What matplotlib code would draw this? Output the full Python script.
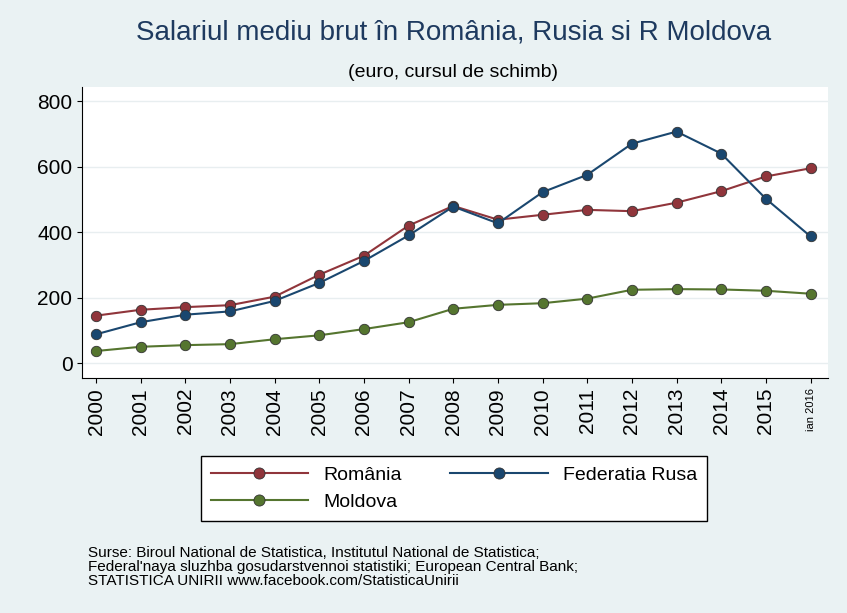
import matplotlib.pyplot as plt
from matplotlib.lines import Line2D

plt.rcParams['font.family'] = ['Liberation Sans', 'DejaVu Sans']

years = ['2000', '2001', '2002', '2003', '2004', '2005', '2006', '2007', '2008',
         '2009', '2010', '2011', '2012', '2013', '2014', '2015', 'ian 2016']
romania = [145, 163, 171, 177, 203, 270, 328, 420, 480, 438, 453, 468, 464, 490, 525, 570, 595]
rusia = [88, 125, 148, 158, 190, 245, 312, 390, 478, 427, 522, 575, 670, 707, 640, 502, 387]
moldova = [37, 50, 55, 58, 73, 85, 104, 125, 166, 178, 183, 197, 224, 226, 225, 221, 212]

c_ro, c_ru, c_md = '#90353b', '#1a476f', '#55752f'

fig = plt.figure(figsize=(8.47, 6.13), dpi=100, facecolor='#eaf2f3')
ax = fig.add_axes([0.097, 0.383, 0.881, 0.475])
x = range(len(years))
for vals, c in [(romania, c_ro), (rusia, c_ru), (moldova, c_md)]:
    ax.plot(x, vals, color=c, lw=1.5, marker='o', ms=7.5, mec='#333333', mew=0.6)

ax.set_xlim(-0.31, 16.4)
ax.set_ylim(-46, 843)
ax.set_yticks([0, 200, 400, 600, 800])
ax.grid(axis='y', color='#e8eef0', lw=1)
ax.set_axisbelow(True)
ax.set_xticks(list(x))
ax.set_xticklabels(years, rotation=90, fontsize=15)
ax.get_xticklabels()[-1].set_fontsize(8)
ax.tick_params(axis='y', labelsize=15)
for s in ['top', 'right']:
    ax.spines[s].set_visible(False)

fig.text(0.535, 0.935, 'Salariul mediu brut în România, Rusia si R Moldova',
         ha='center', fontsize=20, color='#1e3a5f')
fig.text(0.535, 0.875, '(euro, cursul de schimb)', ha='center', fontsize=14)

h = {c: Line2D([], [], color=c, lw=1.5, marker='o', ms=8, mec='#333333', mew=0.6)
     for c in (c_ro, c_ru, c_md)}
leg = fig.legend([h[c_ro], h[c_md], h[c_ru]], ['România', 'Moldova', 'Federatia Rusa'],
                 ncol=2, loc='center', bbox_to_anchor=(0.536, 0.203), fontsize=14,
                 frameon=True, fancybox=False, edgecolor='black', facecolor='white',
                 framealpha=1, handlelength=5, columnspacing=2.5, borderpad=0.5)

fig.text(0.104, 0.045, 'Surse: Biroul National de Statistica, Institutul National de Statistica;\n'
         "Federal'naya sluzhba gosudarstvennoi statistiki; European Central Bank;\n"
         'STATISTICA UNIRII www.facebook.com/StatisticaUnirii', fontsize=11, linespacing=1.0)

fig.savefig('out.png', dpi=100, facecolor=fig.get_facecolor())
